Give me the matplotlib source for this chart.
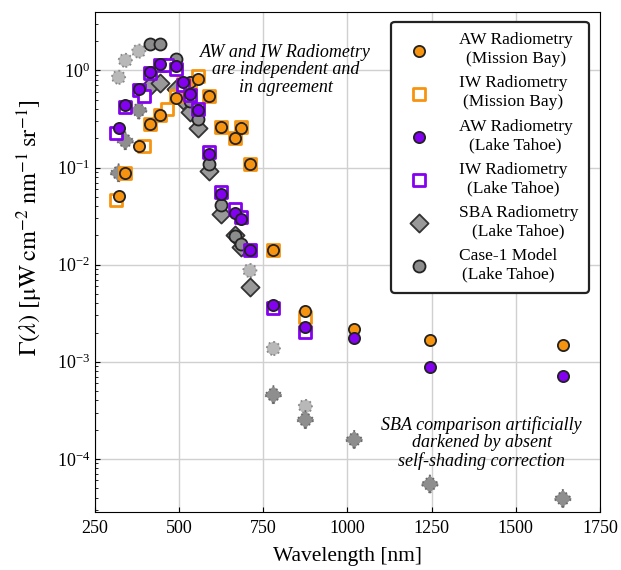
import matplotlib
matplotlib.use("Agg")
import matplotlib.pyplot as plt

plt.rcParams['font.family'] = ['Liberation Serif', 'DejaVu Serif']
plt.rcParams['mathtext.fontset'] = 'stix'

# AW radiometry, Mission Bay
aw_mb_wl = [320, 340, 380, 412, 443, 490, 510, 532, 555, 589, 625, 665, 683, 710, 780, 875, 1020, 1245, 1640]
aw_mb = [0.051, 0.087, 0.167, 0.279, 0.345, 0.525, 0.72, 0.76, 0.82, 0.545, 0.262, 0.20, 0.258, 0.109,
         0.0140, 0.00335, 0.00216, 0.00167, 0.00148]

# IW radiometry, Mission Bay
iw_mb_wl = [313, 340, 395, 412, 443, 465, 490, 510, 532, 555, 589, 625, 665, 683, 710, 780, 875]
iw_mb = [0.046, 0.087, 0.167, 0.28, 0.345, 0.40, 0.55, 0.72, 0.72, 0.87, 0.545, 0.262, 0.20, 0.26, 0.109,
         0.0140, 0.0029]

# AW radiometry, Lake Tahoe
aw_lt_wl = [320, 340, 380, 412, 443, 490, 510, 532, 555, 589, 625, 665, 683, 710, 780, 875, 1020, 1245, 1640]
aw_lt = [0.258, 0.438, 0.649, 0.965, 1.17, 1.10, 0.753, 0.574, 0.394, 0.138, 0.0535, 0.0341, 0.0296, 0.0140,
         0.00383, 0.0023, 0.00174, 0.00089, 0.00071]

# IW radiometry, Lake Tahoe
iw_lt_wl = [313, 340, 380, 395, 412, 443, 465, 490, 510, 532, 555, 589, 625, 665, 683, 710, 780, 875]
iw_lt = [0.226, 0.425, 0.63, 0.545, 0.947, 1.125, 1.15, 1.04, 0.70, 0.56, 0.40, 0.143, 0.0557, 0.0375, 0.0308,
         0.0143, 0.00354, 0.00201]

# SBA radiometry, Lake Tahoe
sba_wl = [412, 443, 490, 510, 532, 555, 589, 625, 665, 683, 710]
sba = [0.685, 0.75, 0.64, 0.50, 0.37, 0.254, 0.092, 0.0333, 0.020, 0.0152, 0.0059]

# Case-1 model, Lake Tahoe
model_wl = [412, 443, 490, 510, 532, 555, 589, 625, 665, 683]
model = [1.89, 1.85, 1.32, 0.62, 0.48, 0.32, 0.109, 0.0412, 0.0197, 0.0164]

# extra points with dotted edges (not in legend)
light_wl = [320, 340, 380, 710, 780, 875]
light = [0.85, 1.27, 1.58, 0.0087, 0.00137, 0.000347]
dark_wl = [320, 340, 380, 780, 875, 1020, 1245, 1640]
dark = [0.088, 0.188, 0.389, 0.000457, 0.000253, 0.000158, 5.5e-5, 3.9e-5]

orange = '#f7940f'
purple = '#8400f0'

fig = plt.figure(figsize=(6.21, 5.70), dpi=100)
ax = fig.add_axes([0.153, 0.102, 0.813, 0.877])

ax.scatter(light_wl, light, s=90, marker='o', facecolor='#b8b8b8', edgecolor='#8a8a8a',
           linewidths=1.3, linestyle=':', zorder=2)
ax.scatter(dark_wl, dark, s=80, marker='D', facecolor='#8e8e8e', edgecolor='#6a6a6a',
           linewidths=1.3, linestyle=':', zorder=2)

ax.scatter(sba_wl, sba, s=85, marker='D', facecolor='#999999', edgecolor='#333333',
           linewidths=1.3, zorder=3, label='SBA Radiometry\n(Lake Tahoe)')
ax.scatter(model_wl, model, s=75, marker='o', facecolor='#8c8c8c', edgecolor='#222222',
           linewidths=1.3, zorder=4, label='Case-1 Model\n(Lake Tahoe)')

ax.scatter(iw_mb_wl, iw_mb, s=70, marker='s', facecolor='white', edgecolor=orange,
           linewidths=2, zorder=5, label='IW Radiometry\n(Mission Bay)')
ax.scatter(aw_mb_wl, aw_mb, s=65, marker='o', facecolor=orange, edgecolor='#222222',
           linewidths=1.3, zorder=6, label='AW Radiometry\n(Mission Bay)')
ax.scatter(iw_lt_wl, iw_lt, s=70, marker='s', facecolor='white', edgecolor=purple,
           linewidths=2, zorder=7, label='IW Radiometry\n(Lake Tahoe)')
ax.scatter(aw_lt_wl, aw_lt, s=65, marker='o', facecolor=purple, edgecolor='#222222',
           linewidths=1.3, zorder=8, label='AW Radiometry\n(Lake Tahoe)')

ax.set_yscale('log')
ax.set_xlim(250, 1750)
ax.set_ylim(2.85e-5, 4.0)
ax.set_xticks([250, 500, 750, 1000, 1250, 1500, 1750])
ax.grid(True, which='major', color='#d0d0d0', linewidth=1)
ax.set_axisbelow(True)
ax.tick_params(which='both', direction='in', labelsize=13)
ax.tick_params(axis='x', pad=6)

ax.set_xlabel('Wavelength [nm]', fontsize=15.5, labelpad=7)
ax.set_ylabel(r'$\Gamma(\lambda)\ [\mathrm{\mu W\;cm^{-2}\;nm^{-1}\;sr^{-1}}]$', fontsize=17.5)
ax.yaxis.set_label_coords(-0.1, 0.568)

ax.text(0.378, 0.884, 'AW and IW Radiometry\nare independent and\nin agreement', transform=ax.transAxes,
        ha='center', va='center', style='italic', fontsize=13, linespacing=1.05, zorder=1)
ax.text(0.766, 0.138, 'SBA comparison artificially\ndarkened by absent\nself-shading correction',
        transform=ax.transAxes, ha='center', va='center', style='italic', fontsize=13,
        linespacing=1.05, zorder=1)

handles, labels = ax.get_legend_handles_labels()
order = ['AW Radiometry\n(Mission Bay)', 'IW Radiometry\n(Mission Bay)', 'AW Radiometry\n(Lake Tahoe)',
         'IW Radiometry\n(Lake Tahoe)', 'SBA Radiometry\n(Lake Tahoe)', 'Case-1 Model\n(Lake Tahoe)']
hmap = dict(zip(labels, handles))
leg = ax.legend([hmap[k] for k in order], order, loc='upper right', bbox_to_anchor=(0.978, 0.98),
                borderaxespad=0, fontsize=12.5, framealpha=1, edgecolor='#222222', fancybox=True,
                labelspacing=0.5, handletextpad=1.3, borderpad=0.6, scatterpoints=1)
leg.get_frame().set_linewidth(1.6)
for t in leg.get_texts():
    t.set_multialignment('center')

fig.savefig('out.png', dpi=100)
